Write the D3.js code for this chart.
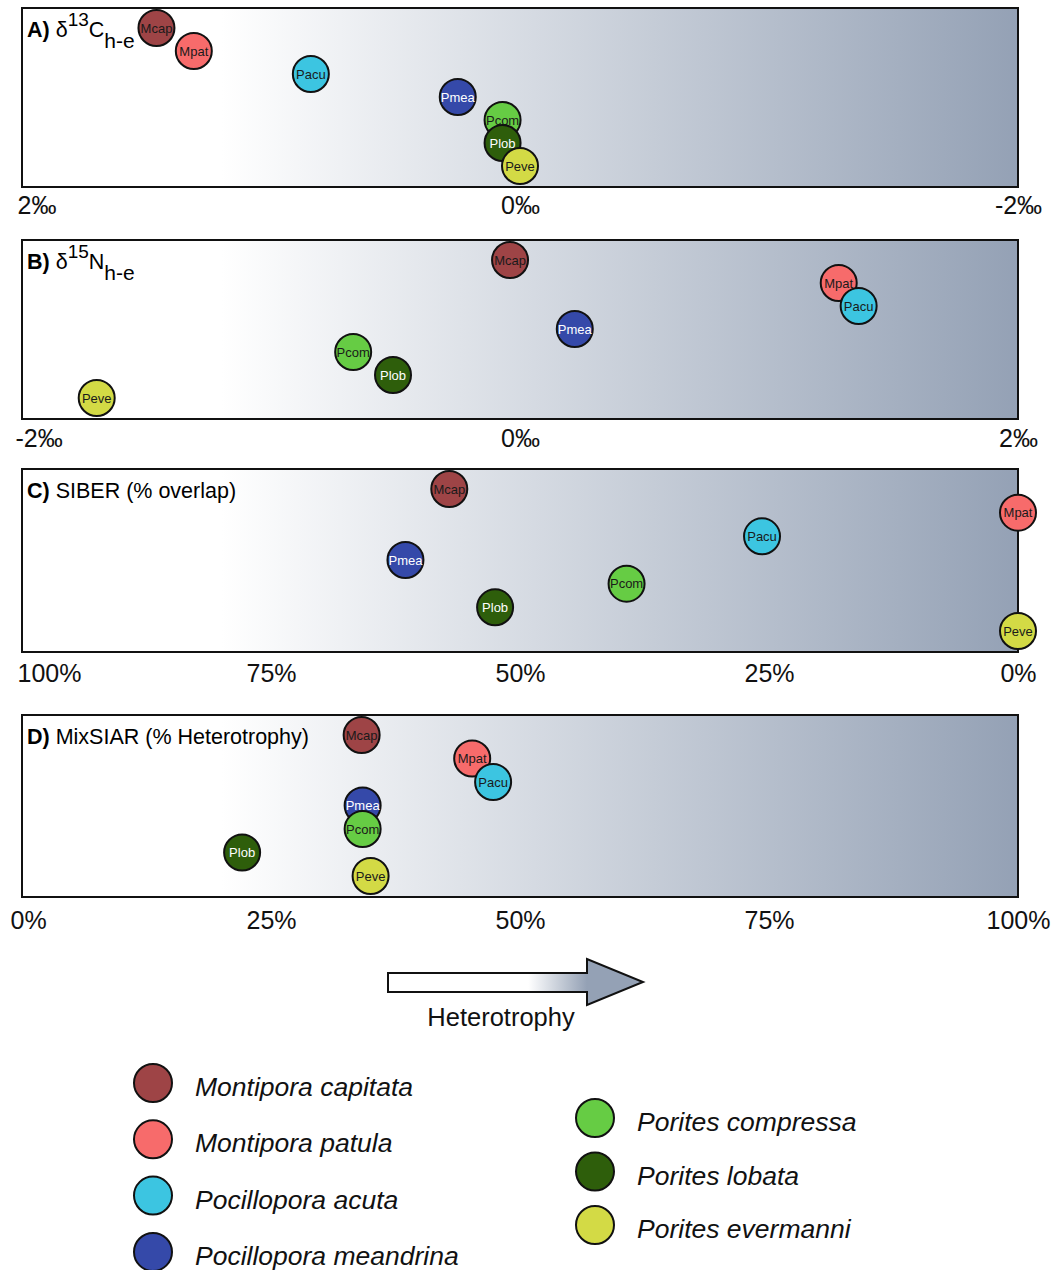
<!DOCTYPE html>
<html>
<head>
<meta charset="utf-8">
<script src="https://cdn.jsdelivr.net/npm/d3@7"></script>
<style>
body { margin: 0; background: #fff; }
svg text { font-family: "Liberation Sans", Arial, sans-serif; }
</style>
</head>
<body>
<div class="container"></div>
<script>
const WIDTH = 1064;
const HEIGHT = 1270;
const LEFT = 22;
const RIGHT = 1018;
const RADIUS = 18;
const SHADE = "#94a1b5";

// species in drawing / vertical order
var species = ["Mcap", "Mpat", "Pacu", "Pmea", "Pcom", "Plob", "Peve"];
var speciesNames = ["Montipora capitata", "Montipora patula", "Pocillopora acuta",
    "Pocillopora meandrina", "Porites compressa", "Porites lobata", "Porites evermanni"];
var speciesColors = ["#9e4446", "#f76b6b", "#3cc5e1", "#3549a9", "#66cc44", "#2e5e0b", "#d3da45"];
var textColors = ["#1a1a1a", "#1a1a1a", "#1a1a1a", "#ffffff", "#1a1a1a", "#ffffff", "#1a1a1a"];

// values
var carbonValues = [1.46, 1.31, 0.84, 0.25, 0.07, 0.07, 0.00];
var nitrogenValues = [-0.04, 1.28, 1.36, 0.22, -0.67, -0.51, -1.70];
var siberValues = [57.1, 0, 25.7, 61.5, 39.3, 52.5, 0];
var mixsiarValues = [34.1, 45.2, 47.3, 34.2, 34.2, 22.1, 35.0];

var carbonTicks = [2, 0, -2];
var nitrogenTicks = [-2, 0, 2];
var siberTicks = [100, 75, 50, 25, 0];
var mixsiarTicks = [0, 25, 50, 75, 100];

var translate = function(x, y){
    return "translate(" + x + "," + y + ")";
};

var addTitle = function(svg, top, letter, parts){
    var t = svg.append('text')
        .attr('x', LEFT + 5)
        .attr('y', top + 29)
        .attr('font-size', 21.5);
    t.append('tspan').attr('font-weight', 'bold').text(letter + ")");
    parts.forEach(function(p){
        var s = t.append('tspan').text(p.text);
        if (p.size) s.attr('font-size', p.size);
        if (p.dy) s.attr('dy', p.dy);
    });
};

var drawPanel = function(svg, panel){
    var x = d3.scaleLinear().domain(panel.domain).range([LEFT, RIGHT]);
    var y = d3.scalePoint().domain(species).range([panel.top + 20, panel.bottom - 21]);

    svg.append('rect')
        .attr('x', LEFT).attr('y', panel.top)
        .attr('width', RIGHT - LEFT).attr('height', panel.bottom - panel.top)
        .attr('fill', 'url(#panelShade)')
        .attr('stroke', '#111').attr('stroke-width', 2);

    addTitle(svg, panel.top, panel.letter, panel.title);

    var axis = d3.axisBottom(x)
        .tickValues(panel.ticks)
        .tickSize(0)
        .tickPadding(panel.pad)
        .tickFormat(function(d){ return d + panel.unit; });

    var g = svg.append('g')
        .attr('transform', translate(0, panel.bottom))
        .call(axis);
    g.select('.domain').remove();
    g.selectAll('text')
        .attr('font-size', 25)
        .attr('font-family', '"Liberation Sans", Arial, sans-serif')
        .attr('fill', '#111');
    g.selectAll('.tick').filter(function(d, i){ return i === 0; })
        .select('text')
        .attr('text-anchor', 'start')
        .attr('x', panel.firstShift);

    var dots = svg.append('g').selectAll('g')
        .data(species.map(function(s, i){ return {name: s, value: panel.values[i], i: i}; }))
        .enter()
        .append('g')
        .attr('transform', function(d){ return translate(x(d.value), y(d.name)); });

    dots.append('circle')
        .attr('r', RADIUS)
        .attr('fill', function(d){ return speciesColors[d.i]; })
        .attr('stroke', '#111')
        .attr('stroke-width', 2);

    dots.append('text')
        .attr('text-anchor', 'middle')
        .attr('dy', '0.36em')
        .attr('font-size', 13)
        .attr('fill', function(d){ return textColors[d.i]; })
        .text(function(d){ return d.name; });
};

var drawArrow = function(svg){
    svg.append('path')
        .attr('d', "M388,973 H587 V959 L643,982 L587,1005 V992 H388 Z")
        .attr('fill', 'url(#arrowShade)')
        .attr('stroke', '#111')
        .attr('stroke-width', 2)
        .attr('stroke-linejoin', 'miter');

    svg.append('text')
        .attr('x', 501).attr('y', 1026)
        .attr('text-anchor', 'middle')
        .attr('font-size', 25.5)
        .attr('fill', '#111')
        .text("Heterotrophy");
};

var drawLegend = function(svg){
    var items = species.map(function(s, i){
        var left = i < 4;
        return {
            i: i,
            cx: left ? 153 : 595,
            cy: left ? 1083 + i * 56.3 : 1118 + (i - 4) * 53.5
        };
    });

    var g = svg.append('g').selectAll('g')
        .data(items)
        .enter()
        .append('g')
        .attr('transform', function(d){ return translate(d.cx, d.cy); });

    g.append('circle')
        .attr('r', 19)
        .attr('fill', function(d){ return speciesColors[d.i]; })
        .attr('stroke', '#111')
        .attr('stroke-width', 2);

    g.append('text')
        .attr('x', 42)
        .attr('y', 13)
        .attr('font-size', 26.5)
        .attr('font-style', 'italic')
        .attr('fill', '#111')
        .text(function(d){ return speciesNames[d.i]; });
};

var loadChart = function(){
    var svg = d3.select('.container').append('svg')
        .attr('width', WIDTH)
        .attr('height', HEIGHT);

    var defs = svg.append('defs');
    var lg = defs.append('linearGradient')
        .attr('id', 'panelShade')
        .attr('x1', 0).attr('x2', 1).attr('y1', 0).attr('y2', 0);
    lg.append('stop').attr('offset', 0.2).attr('stop-color', '#ffffff');
    lg.append('stop').attr('offset', 1).attr('stop-color', SHADE);

    var ag = defs.append('linearGradient')
        .attr('id', 'arrowShade')
        .attr('gradientUnits', 'userSpaceOnUse')
        .attr('x1', 388).attr('x2', 643).attr('y1', 0).attr('y2', 0);
    ag.append('stop').attr('offset', 0.55).attr('stop-color', '#ffffff');
    ag.append('stop').attr('offset', 0.78).attr('stop-color', SHADE);

    var panels = [
        {letter: "A", top: 8, bottom: 187, domain: [2, -2], values: carbonValues, ticks: carbonTicks,
         unit: "‰", pad: 9, firstShift: -5,
         title: [{text: " δ"}, {text: "13", size: 19, dy: -11}, {text: "C", dy: 11}, {text: "h-e", size: 21, dy: 11}]},
        {letter: "B", top: 240, bottom: 419, domain: [-2, 2], values: nitrogenValues, ticks: nitrogenTicks,
         unit: "‰", pad: 10, firstShift: -7,
         title: [{text: " δ"}, {text: "15", size: 19, dy: -11}, {text: "N", dy: 11}, {text: "h-e", size: 21, dy: 11}]},
        {letter: "C", top: 469, bottom: 652, domain: [100, 0], values: siberValues, ticks: siberTicks,
         unit: "%", pad: 12, firstShift: -5,
         title: [{text: " SIBER (% overlap)"}]},
        {letter: "D", top: 715, bottom: 897, domain: [0, 100], values: mixsiarValues, ticks: mixsiarTicks,
         unit: "%", pad: 14, firstShift: -12,
         title: [{text: " MixSIAR (% Heterotrophy)"}]}
    ];

    panels.forEach(function(p){ drawPanel(svg, p); });
    drawArrow(svg);
    drawLegend(svg);
};

window.onload = loadChart;
</script>
</body>
</html>
